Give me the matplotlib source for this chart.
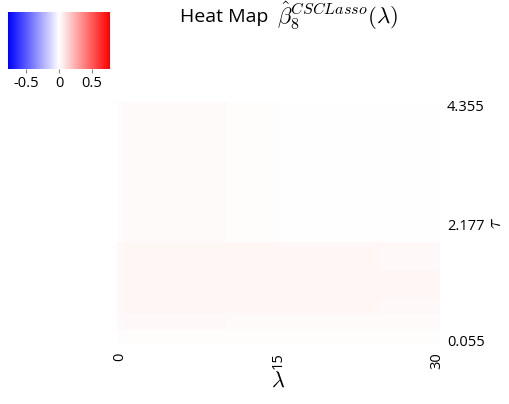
import numpy as np
import matplotlib
matplotlib.use("Agg")
from matplotlib import pyplot as plt
from matplotlib.colors import LinearSegmentedColormap, Normalize
from matplotlib.colorbar import ColorbarBase

# cell edges along lambda (columns) and tau (rows)
lambda_edges = [-0.28, 0.2, 5.7, 10.1, 15.1, 24.6, 30.3]
tau_edges = [0.0, 0.25, 0.55, 0.8, 1.35, 1.85, 4.41]

# coefficient values, rows from bottom (small tau) to top
beta_rows = [
    [0.008, 0.012, 0.012, 0.012, 0.011, 0.011],
    [0.014, 0.020, 0.020, 0.018, 0.016, 0.016],
    [0.020, 0.026, 0.026, 0.026, 0.025, 0.024],
    [0.022, 0.028, 0.028, 0.027, 0.027, 0.026],
    [0.020, 0.026, 0.026, 0.025, 0.025, 0.024],
    [0.012, 0.016, 0.013, 0.010, 0.005, 0.000],
]

x_ticks = [0, 15, 30]
tau_ticks = [4.355, 2.177, 0.055]
tau_labels = ["4.355", "2.177", "0.055"]
cbar_ticks = [-0.5, 0, 0.5]
cbar_labels = ["-0.5", "0", "0.5"]

plt.rcParams['font.family'] = ['Open Sans', 'DejaVu Sans']
plt.rcParams['mathtext.fontset'] = 'cm'

cmap = LinearSegmentedColormap.from_list("bwr2", ["#0000FF", "#FFFFFF", "#FF0000"])
norm = Normalize(vmin=-0.78, vmax=0.78)

W, H = 510, 404
fig = plt.figure(figsize=(W / 100, H / 100), dpi=100)

ax = fig.add_axes([117 / W, 1 - 344 / H, (440 - 117) / W, (344 - 102) / H])
ax.pcolormesh(lambda_edges, tau_edges, np.array(beta_rows), cmap=cmap, norm=norm,
              shading='flat', edgecolors='none')
ax.set_xlim(lambda_edges[0], lambda_edges[-1])
ax.set_ylim(tau_edges[0], tau_edges[-1])
for s in ax.spines.values():
    s.set_visible(False)

ax.set_xticks(x_ticks)
ax.set_xticklabels([str(t) for t in x_ticks], rotation=90, fontsize=10.5)
ax.tick_params(axis='x', length=0, pad=6)
ax.set_xlabel(r"$\lambda$", rotation=0, fontsize=16, labelpad=1)

ax.yaxis.tick_right()
ax.set_yticks(tau_ticks)
ax.set_yticklabels(tau_labels, fontsize=10.5)
ax.tick_params(axis='y', length=0, pad=5)
ax.yaxis.set_label_position('right')
ax.set_ylabel(r"$\tau$", rotation=90, fontsize=14, labelpad=2)

fig.text(180 / W, 1 - 22 / H, "Heat Map", ha='left', va='baseline', fontsize=14)
fig.text(277 / W, 1 - 24 / H, r"$\hat{\beta}_8^{CSCLasso}(\lambda)$",
         ha='left', va='baseline', fontsize=16.5)

cax = fig.add_axes([8 / W, 1 - 69 / H, 102 / W, 57 / H])
cb = ColorbarBase(cax, cmap=cmap, norm=norm, orientation='horizontal')
cb.outline.set_visible(False)
cb.set_ticks(cbar_ticks)
cb.set_ticklabels(cbar_labels)
cax.tick_params(labelsize=10.5, length=3, color='#888888', pad=2)

fig.savefig("out.png", dpi=100)
